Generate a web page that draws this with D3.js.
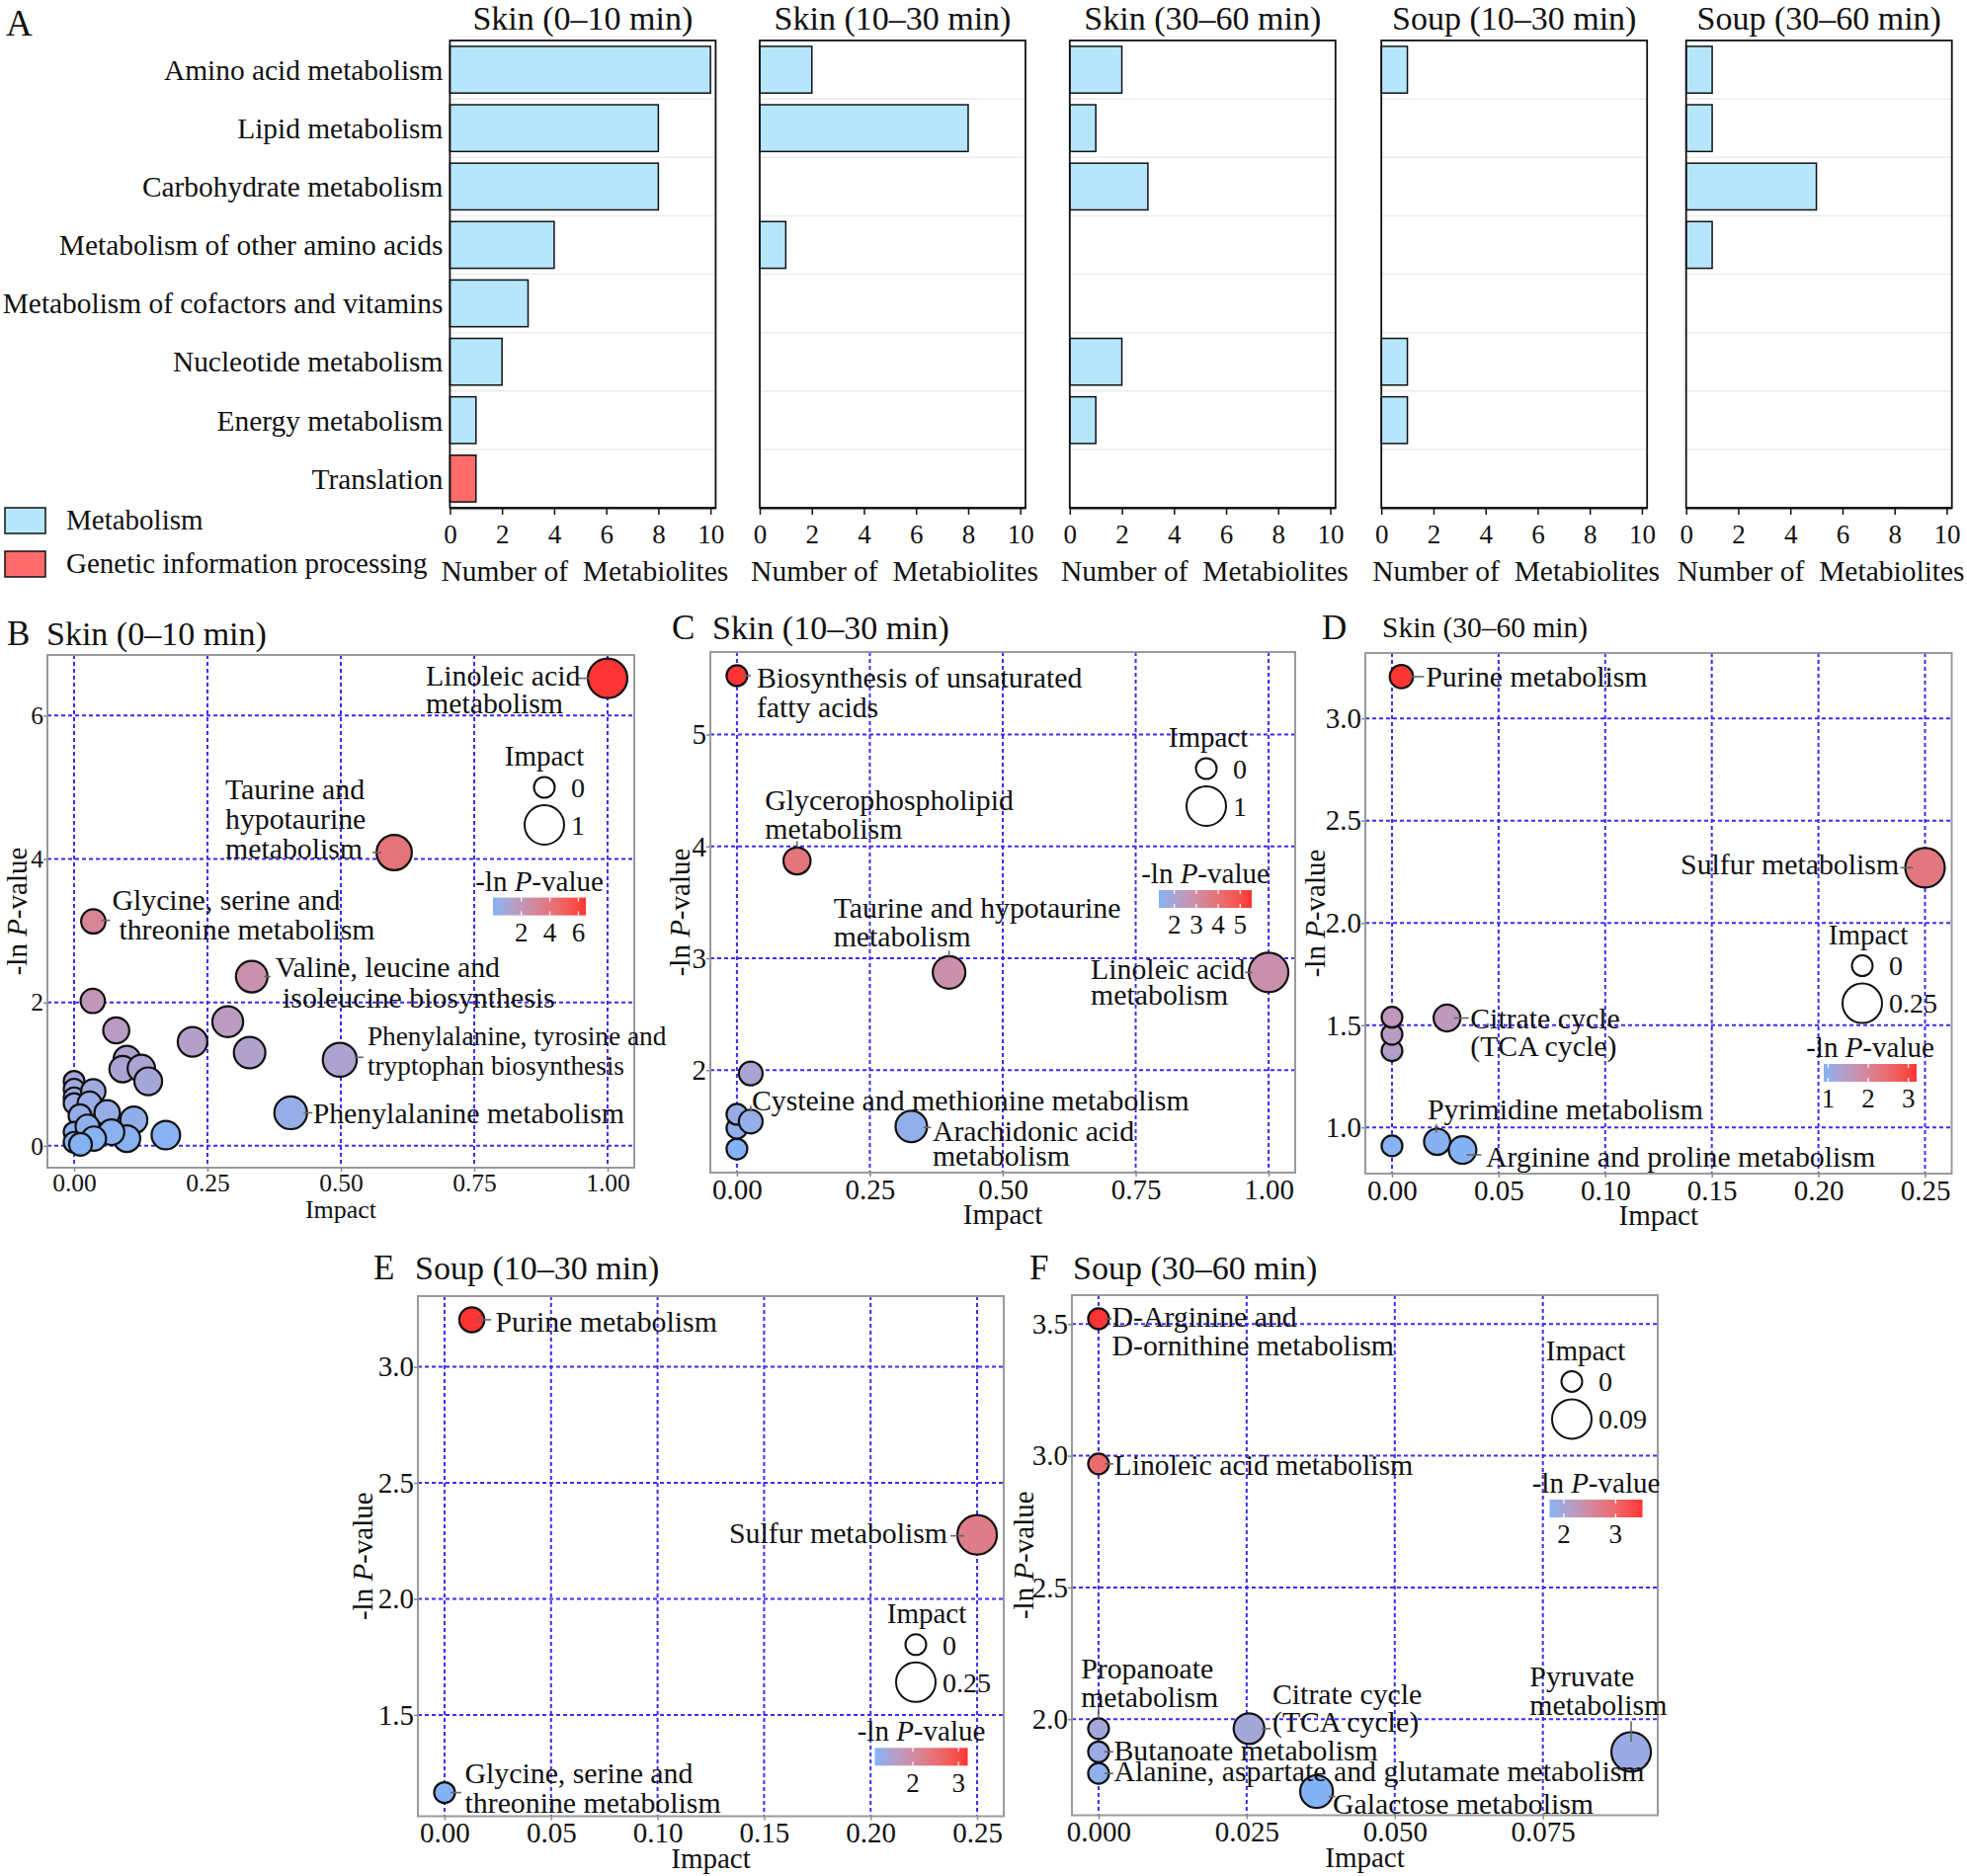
<!DOCTYPE html>
<html><head><meta charset="utf-8">
<script src="https://cdn.jsdelivr.net/npm/d3@7"></script>
<style>
body{margin:0;background:#fff}
svg{display:block}
text{font-family:"Liberation Serif","Times New Roman",Times,serif;fill:#111}
</style>
</head><body>
<svg id="fig" width="1991" height="1899"></svg>
<script>
// ================= DATA =================
// Panel A: KEGG classes, number of metabolites
const categories = ["Amino acid metabolism","Lipid metabolism","Carbohydrate metabolism","Metabolism of other amino acids","Metabolism of cofactors and vitamins","Nucleotide metabolism","Energy metabolism","Translation"];
const categoryClass = ["Metabolism","Metabolism","Metabolism","Metabolism","Metabolism","Metabolism","Metabolism","Genetic information processing"];
const classNames = ["Metabolism","Genetic information processing"];
const groupTitles = ["Skin (0–10 min)","Skin (10–30 min)","Skin (30–60 min)","Soup (10–30 min)","Soup (30–60 min)"];
const skin0to10Counts  = [10,8,8,4,3,2,1,1];
const skin10to30Counts = [2,8,0,1,0,0,0,0];
const skin30to60Counts = [2,1,3,0,0,2,1,0];
const soup10to30Counts = [1,0,0,0,0,1,1,0];
const soup30to60Counts = [1,1,5,1,0,0,0,0];
const countTicks = [0,2,4,6,8,10];

// Panels B-F: pathway impact vs -ln P-value
const skin0to10Pathways = [
  {pathway:null, impact:0.000, nlp:0.90},{pathway:null, impact:0.000, nlp:0.79},{pathway:null, impact:0.000, nlp:0.67},
  {pathway:null, impact:0.000, nlp:0.59},{pathway:null, impact:0.036, nlp:0.76},{pathway:null, impact:0.029, nlp:0.59},
  {pathway:null, impact:0.011, nlp:0.42},{pathway:null, impact:0.062, nlp:0.46},{pathway:null, impact:0.112, nlp:0.36},
  {pathway:null, impact:0.172, nlp:0.15},{pathway:null, impact:0.099, nlp:0.10},{pathway:null, impact:0.070, nlp:0.19},
  {pathway:null, impact:0.000, nlp:0.19},{pathway:null, impact:0.025, nlp:0.27},{pathway:null, impact:0.037, nlp:0.10},
  {pathway:null, impact:0.000, nlp:0.05},{pathway:null, impact:0.012, nlp:0.02},
  {pathway:null, impact:0.099, nlp:1.21},{pathway:null, impact:0.091, nlp:1.07},{pathway:null, impact:0.126, nlp:1.08},
  {pathway:null, impact:0.139, nlp:0.90},{pathway:null, impact:0.035, nlp:2.02},{pathway:null, impact:0.079, nlp:1.61},
  {pathway:null, impact:0.288, nlp:1.73},{pathway:null, impact:0.222, nlp:1.45},{pathway:null, impact:0.329, nlp:1.30},
  {pathway:"Phenylalanine metabolism", impact:0.406, nlp:0.46},
  {pathway:"Phenylalanine, tyrosine and tryptophan biosynthesis", impact:0.498, nlp:1.20},
  {pathway:"Valine, leucine and isoleucine biosynthesis", impact:0.333, nlp:2.36},
  {pathway:"Glycine, serine and threonine metabolism", impact:0.036, nlp:3.13},
  {pathway:"Taurine and hypotaurine metabolism", impact:0.600, nlp:4.09},
  {pathway:"Linoleic acid metabolism", impact:1.000, nlp:6.52}
];
const skin10to30Pathways = [
  {pathway:null, impact:0.000, nlp:1.295},{pathway:null, impact:0.000, nlp:1.48},{pathway:null, impact:0.000, nlp:1.605},
  {pathway:"Cysteine and methionine metabolism", impact:0.026, nlp:1.54},
  {pathway:null, impact:0.026, nlp:1.97},
  {pathway:"Arachidonic acid metabolism", impact:0.328, nlp:1.496},
  {pathway:"Taurine and hypotaurine metabolism", impact:0.399, nlp:2.873},
  {pathway:"Linoleic acid metabolism", impact:1.000, nlp:2.873},
  {pathway:"Glycerophospholipid metabolism", impact:0.113, nlp:3.87},
  {pathway:"Biosynthesis of unsaturated fatty acids", impact:0.000, nlp:5.526}
];
const skin30to60Pathways = [
  {pathway:null, impact:0.000, nlp:0.91},
  {pathway:"Pyrimidine metabolism", impact:0.0212, nlp:0.93},
  {pathway:"Arginine and proline metabolism", impact:0.0331, nlp:0.89},
  {pathway:null, impact:0.000, nlp:1.375},{pathway:null, impact:0.000, nlp:1.455},{pathway:null, impact:0.000, nlp:1.539},
  {pathway:"Citrate cycle (TCA cycle)", impact:0.0258, nlp:1.535},
  {pathway:"Sulfur metabolism", impact:0.250, nlp:2.27},
  {pathway:"Purine metabolism", impact:0.0044, nlp:3.204}
];
const soup10to30Pathways = [
  {pathway:"Glycine, serine and threonine metabolism", impact:0.000, nlp:1.165},
  {pathway:"Sulfur metabolism", impact:0.250, nlp:2.276},
  {pathway:"Purine metabolism", impact:0.0128, nlp:3.203}
];
const soup30to60Pathways = [
  {pathway:"Alanine, aspartate and glutamate metabolism", impact:0.000, nlp:1.794},
  {pathway:"Butanoate metabolism", impact:0.000, nlp:1.876},
  {pathway:"Propanoate metabolism", impact:0.000, nlp:1.964},
  {pathway:"Galactose metabolism", impact:0.0368, nlp:1.725},
  {pathway:"Citrate cycle (TCA cycle)", impact:0.0254, nlp:1.964},
  {pathway:"Pyruvate metabolism", impact:0.0899, nlp:1.876},
  {pathway:"Linoleic acid metabolism", impact:0.000, nlp:2.969},
  {pathway:"D-Arginine and D-ornithine metabolism", impact:0.000, nlp:3.52}
];

// ================= LAYOUT / STYLE =================
const LOW = "#84B3F5", HIGH = "#FF3434", GRID = "#3d2cf5";
const BAR_FILL = {"Metabolism":"#B5E6FB","Genetic information processing":"#FF6B6B"};
const LABEL_FONT = 29.8;
const svg = d3.select("#fig");

// ---------- Panel A ----------
const barSeries = [skin0to10Counts, skin10to30Counts, skin30to60Counts, soup10to30Counts, soup30to60Counts];
const A = {lefts:[455.4, 769, 1082.8, 1398.2, 1706.7], w:269, top:41, bottom:514, xmax:10.2};
svg.append("text").attr("x",6).attr("y",23).attr("dy","0.35em").attr("font-size",37).text("A");

barSeries.forEach((vals, i) => {
  const L = A.lefts[i];
  const g = svg.append("g");
  const x = d3.scaleLinear().domain([0, A.xmax]).range([L, L + A.w]);
  const y = d3.scaleBand().domain(categories).range([A.top, A.bottom]).paddingInner(0.2).paddingOuter(0.1);
  g.selectAll("line.sep").data(categories.slice(1)).join("line")
    .attr("x1", L).attr("x2", L + A.w)
    .attr("y1", d => y(d) - y.step()*0.1).attr("y2", d => y(d) - y.step()*0.1)
    .attr("stroke", "#ececec").attr("stroke-width", 1.5);
  const rows = categories.map((c, k) => ({c, v: vals[k], cls: categoryClass[k]})).filter(d => d.v > 0);
  g.selectAll("rect.bar").data(rows).join("rect")
    .attr("x", x(0)).attr("y", d => y(d.c)).attr("width", d => x(d.v) - x(0)).attr("height", y.bandwidth())
    .attr("fill", d => BAR_FILL[d.cls]).attr("stroke", "#111").attr("stroke-width", 1.5);
  g.append("rect").attr("x", L).attr("y", A.top).attr("width", A.w).attr("height", A.bottom - A.top)
    .attr("fill", "none").attr("stroke", "#111").attr("stroke-width", 1.8);
  const ax = g.append("g").attr("transform", `translate(0,${A.bottom})`)
    .call(d3.axisBottom(x).tickValues(countTicks).tickSize(7).tickSizeOuter(0).tickPadding(10));
  ax.select(".domain").attr("stroke", "#111").attr("stroke-width", 1.8);
  ax.selectAll(".tick line").attr("stroke", "#111").attr("stroke-width", 1.5);
  ax.selectAll("text").attr("font-family", null).attr("font-size", 27).attr("fill", "#111");
  svg.append("text").attr("x", L + A.w/2).attr("y", 18).attr("dy", "0.35em")
    .attr("text-anchor", "middle").attr("font-size", 34).text(groupTitles[i]);
  svg.append("text").attr("x", L + A.w/2 + 2).attr("y", 578).attr("dy", "0.35em")
    .attr("text-anchor", "middle").attr("font-size", 29.5).style("white-space", "pre").text("Number of  Metabiolites");
  if (i === 0) {
    g.selectAll("text.cat").data(categories).join("text")
      .attr("x", L - 7).attr("y", d => y(d) + y.bandwidth()/2).attr("dy", "0.35em")
      .attr("text-anchor", "end").attr("font-size", 29.4).text(d => d);
  }
});
classNames.forEach((c, k) => {
  const yy = 514 + k*44;
  svg.append("rect").attr("x", 5).attr("y", yy).attr("width", 41).attr("height", 26)
    .attr("fill", BAR_FILL[c]).attr("stroke", "#111").attr("stroke-width", 1.5);
  svg.append("text").attr("x", 67).attr("y", yy + 12).attr("dy", "0.35em").attr("font-size", 29).text(c);
});

// ---------- Panels B-F ----------
const scatterPanels = [
  {id:"B", data:skin0to10Pathways, title:"Skin (0–10 min)",
   frame:{left:48, top:663, w:594, h:519},
   letter:{x:7, y:641}, titleX:47, titleSize:34,
   xTicks:[0,0.25,0.5,0.75,1], xFmt:".2f", yTicks:[0,2,4,6], yFmt:"d",
   tickFont:25.5, xTitleFont:26, yTitleOff:31,
   sizeLegend:{values:[0,1], x:503, y:102, tdx:0}, colorLegend:{ticks:[2,4,6], x:451, y:245.6},
   labels:{
    "Linoleic acid metabolism":{lines:["Linoleic acid","metabolism"], dx:-184, dy:-3, lh:28, seg:[-31,0,-17,0]},
    "Taurine and hypotaurine metabolism":{lines:["Taurine and","hypotaurine","metabolism"], dx:-171, dy:-64, lh:30, seg:[-22,0,-13,0]},
    "Glycine, serine and threonine metabolism":{lines:["Glycine, serine and","threonine metabolism"], ldx:[0,7], dx:19, dy:-22, lh:30, seg:[8,-1,17,-1]},
    "Valine, leucine and isoleucine biosynthesis":{lines:["Valine, leucine and","isoleucine biosynthesis"], ldx:[0,7.6], dx:23.6, dy:-10, lh:30.6, seg:[12.5,0,19,0]},
    "Phenylalanine, tyrosine and tryptophan biosynthesis":{lines:["Phenylalanine, tyrosine and","tryptophan biosynthesis"], fs:27.3, dx:28, dy:-24, lh:30, seg:[15,-2.5,24,-2.5]},
    "Phenylalanine metabolism":{lines:["Phenylalanine metabolism"], dx:22.4, dy:0, seg:[13,0,22,0]}
   }},
  {id:"C", data:skin10to30Pathways, title:"Skin (10–30 min)",
   frame:{left:719, top:660, w:592, h:527},
   letter:{x:680, y:635}, titleX:721, titleSize:34,
   xTicks:[0,0.25,0.5,0.75,1], xFmt:".2f", yTicks:[2,3,4,5], yFmt:"d",
   tickFont:29, xTitleFont:29, yTitleOff:31,
   sizeLegend:{values:[0,1], x:502, y:86, tdx:2}, colorLegend:{ticks:[2,3,4,5], x:454, y:241},
   labels:{
    "Biosynthesis of unsaturated fatty acids":{lines:["Biosynthesis of unsaturated","fatty acids"], dx:20, dy:1.3, lh:30, seg:[6,0,14,0]},
    "Glycerophospholipid metabolism":{lines:["Glycerophospholipid","metabolism"], dx:-32.4, dy:-62, lh:29, seg:[0,-20,0,-14]},
    "Taurine and hypotaurine metabolism":{lines:["Taurine and hypotaurine","metabolism"], dx:-117, dy:-65.5, lh:29, seg:[0,-22,0,-16]},
    "Linoleic acid metabolism":{lines:["Linoleic acid","metabolism"], dx:-180, dy:-3.3, lh:26, seg:[-24,0,-16,0]},
    "Cysteine and methionine metabolism":{lines:["Cysteine and methionine metabolism"], dx:1, dy:-22, seg:[0,-16,0,-10]},
    "Arachidonic acid metabolism":{lines:["Arachidonic acid","metabolism"], dx:21.5, dy:4, lh:25, seg:[12,1,20,1]}
   }},
  {id:"D", data:skin30to60Pathways, title:"Skin (30–60 min)",
   frame:{left:1382, top:661, w:593.5, h:527},
   letter:{x:1338, y:635}, titleX:1399, titleSize:29.5,
   xTicks:[0,0.05,0.1,0.15,0.2,0.25], xFmt:".2f", yTicks:[1,1.5,2,2.5,3], yFmt:".1f",
   tickFont:29, xTitleFont:29, yTitleOff:51,
   sizeLegend:{values:[0,0.25], x:503, y:284.6, tdx:6}, colorLegend:{ticks:[1,2,3], x:464, y:416},
   labels:{
    "Purine metabolism":{lines:["Purine metabolism"], dx:24.8, dy:0, seg:[8,0,23,0]},
    "Sulfur metabolism":{lines:["Sulfur metabolism"], dx:-247.4, dy:-4, seg:[-25,0,-12,0]},
    "Citrate cycle (TCA cycle)":{lines:["Citrate cycle","(TCA cycle)"], dx:23.6, dy:0, lh:28.2, seg:[7,0,22,0]},
    "Pyrimidine metabolism":{lines:["Pyrimidine metabolism"], dx:-9.8, dy:-33.2, seg:[-1,-18,-1,-9]},
    "Arginine and proline metabolism":{lines:["Arginine and proline metabolism"], dx:23.5, dy:6.6, seg:[4,5,19,5]}
   }},
  {id:"E", data:soup10to30Pathways, title:"Soup (10–30 min)",
   frame:{left:423, top:1312, w:593, h:526.5},
   letter:{x:378, y:1283}, titleX:420, titleSize:34,
   xTicks:[0,0.05,0.1,0.15,0.2,0.25], xFmt:".2f", yTicks:[1.5,2,2.5,3], yFmt:".1f",
   tickFont:29, xTitleFont:29, yTitleOff:56,
   sizeLegend:{values:[0,0.25], x:504, y:320.8, tdx:11}, colorLegend:{ticks:[2,3], x:462.5, y:457.3},
   labels:{
    "Purine metabolism":{lines:["Purine metabolism"], dx:24, dy:2, seg:[5,0,19.6,0]},
    "Sulfur metabolism":{lines:["Sulfur metabolism"], dx:-251, dy:-2, seg:[-27,1,-13,1]},
    "Glycine, serine and threonine metabolism":{lines:["Glycine, serine and","threonine metabolism"], dx:20.6, dy:-19.5, lh:29.8, seg:[6,0,17,0]}
   }},
  {id:"F", data:soup30to60Pathways, title:"Soup (30–60 min)",
   frame:{left:1085, top:1311, w:593, h:526.5},
   letter:{x:1042, y:1283}, titleX:1086, titleSize:34,
   xTicks:[0,0.025,0.05,0.075], xFmt:".3f", yTicks:[2,2.5,3,3.5], yFmt:".1f",
   tickFont:29, xTitleFont:29, yTitleOff:49,
   sizeLegend:{values:[0,0.09], x:506, y:55.4, tdx:14}, colorLegend:{ticks:[2,3], x:483.5, y:207},
   labels:{
    "D-Arginine and D-ornithine metabolism":{lines:["D-Arginine and","D-ornithine metabolism"], dx:13.5, dy:-2, lh:29, seg:[6.7,0,13.4,0]},
    "Linoleic acid metabolism":{lines:["Linoleic acid metabolism"], dx:15.5, dy:1, seg:[6,0,15,0]},
    "Propanoate metabolism":{lines:["Propanoate","metabolism"], dx:-17.8, dy:-61.3, lh:29, seg:[0,-22,0,-10]},
    "Butanoate metabolism":{lines:["Butanoate metabolism"], dx:15.5, dy:-2, seg:[6,0,15,0]},
    "Alanine, aspartate and glutamate metabolism":{lines:["Alanine, aspartate and glutamate metabolism"], dx:15.5, dy:-2.5, seg:[6,0,15,0]},
    "Citrate cycle (TCA cycle)":{lines:["Citrate cycle","(TCA cycle)"], dx:23.7, dy:-35.6, lh:28, seg:[13,0,22,0]},
    "Galactose metabolism":{lines:["Galactose metabolism"], dx:16.4, dy:11.6, seg:[12,5,19,5]},
    "Pyruvate metabolism":{lines:["Pyruvate","metabolism"], dx:-102.7, dy:-76.6, lh:29, seg:[0,-31,0,-10]}
   }}
];

const defs = svg.append("defs");

function drawScatter(p) {
  const g = svg.append("g");
  const {left, top, w, h} = p.frame;
  const xe = d3.extent(p.data, d => d.impact), ye = d3.extent(p.data, d => d.nlp);
  const xp = (xe[1] - xe[0]) * 0.05, yp = (ye[1] - ye[0]) * 0.05;
  const x = d3.scaleLinear().domain([xe[0] - xp, xe[1] + xp]).range([left, left + w]);
  const y = d3.scaleLinear().domain([ye[0] - yp, ye[1] + yp]).range([top + h, top]);
  const r = d3.scaleSqrt().domain([0, xe[1]]).range([10.5, 20]);
  const col = d3.scaleLinear().domain(ye).range([LOW, HIGH]).interpolate(d3.interpolateLab);

  svg.append("text").attr("x", p.letter.x).attr("y", p.letter.y).attr("dy", "0.35em").attr("font-size", 35).text(p.id);
  svg.append("text").attr("x", p.titleX).attr("y", p.letter.y).attr("dy", "0.35em").attr("font-size", p.titleSize).text(p.title);

  const grid = g.append("g").attr("stroke", GRID).attr("stroke-width", 2).attr("stroke-dasharray", "4,3");
  grid.selectAll("line.gx").data(p.xTicks).join("line")
    .attr("x1", d => x(d)).attr("x2", d => x(d)).attr("y1", top).attr("y2", top + h);
  grid.selectAll("line.gy").data(p.yTicks).join("line")
    .attr("y1", d => y(d)).attr("y2", d => y(d)).attr("x1", left).attr("x2", left + w);

  g.append("rect").attr("x", left).attr("y", top).attr("width", w).attr("height", h)
    .attr("fill", "none").attr("stroke", "#9a9a9a").attr("stroke-width", 2);

  const ax = g.append("g").attr("transform", `translate(0,${top + h})`)
    .call(d3.axisBottom(x).tickValues(p.xTicks).tickFormat(d3.format(p.xFmt)).tickSize(4).tickSizeOuter(0).tickPadding(2));
  const ay = g.append("g").attr("transform", `translate(${left},0)`)
    .call(d3.axisLeft(y).tickValues(p.yTicks).tickFormat(d3.format(p.yFmt)).tickSize(4).tickSizeOuter(0).tickPadding(0));
  [ax, ay].forEach(a => {
    a.select(".domain").remove();
    a.selectAll(".tick line").attr("stroke", "#888").attr("stroke-width", 1.5);
    a.selectAll("text").attr("font-family", null).attr("font-size", p.tickFont).attr("fill", "#111");
  });
  svg.append("text").attr("x", left + w/2).attr("y", top + h + 42).attr("dy", "0.35em")
    .attr("text-anchor", "middle").attr("font-size", p.xTitleFont).text("Impact");
  const yt = svg.append("text").attr("transform", `translate(${left - p.yTitleOff},${top + h/2}) rotate(-90)`)
    .attr("dy", "0.35em").attr("text-anchor", "middle").attr("font-size", 29);
  yt.append("tspan").text("-ln ");
  yt.append("tspan").attr("font-style", "italic").text("P");
  yt.append("tspan").text("-value");

  g.append("g").selectAll("circle").data(p.data).join("circle")
    .attr("cx", d => x(d.impact)).attr("cy", d => y(d.nlp)).attr("r", d => r(d.impact))
    .attr("fill", d => col(d.nlp)).attr("stroke", "#111").attr("stroke-width", 2.2);

  const lab = g.append("g");
  p.data.filter(d => d.pathway && p.labels[d.pathway]).forEach(d => {
    const L = p.labels[d.pathway];
    const cx = x(d.impact), cy = y(d.nlp);
    lab.append("line").attr("x1", cx + L.seg[0]).attr("y1", cy + L.seg[1]).attr("x2", cx + L.seg[2]).attr("y2", cy + L.seg[3])
      .attr("stroke", "#666").attr("stroke-width", 1.6);
    L.lines.forEach((t, k) => {
      lab.append("text").attr("x", cx + L.dx + (L.ldx ? L.ldx[k] : 0)).attr("y", cy + L.dy + k * (L.lh || 29))
        .attr("dy", "0.35em").attr("font-size", L.fs || LABEL_FONT).text(t);
    });
  });

  const sl = p.sizeLegend, sx = left + sl.x, sy = top + sl.y;
  svg.append("text").attr("x", sx + sl.tdx).attr("y", sy).attr("dy", "0.35em").attr("text-anchor", "middle")
    .attr("font-size", 29).text("Impact");
  sl.values.forEach((v, k) => {
    const cy = sy + 32 + k * 38;
    svg.append("circle").attr("cx", sx).attr("cy", cy).attr("r", r(v)).attr("fill", "none").attr("stroke", "#111").attr("stroke-width", 2);
    svg.append("text").attr("x", sx + 27).attr("y", cy).attr("dy", "0.35em").attr("font-size", 28).text(String(v));
  });

  const cl = p.colorLegend, bx = left + cl.x, by = top + cl.y, bw = 94, bh = 18;
  const gid = "grad" + p.id;
  const lg = defs.append("linearGradient").attr("id", gid).attr("x1", "0%").attr("x2", "100%").attr("y1", "0%").attr("y2", "0%");
  d3.range(0, 1.0001, 0.1).forEach(t => {
    lg.append("stop").attr("offset", (t * 100) + "%").attr("stop-color", col(ye[0] + t * (ye[1] - ye[0])));
  });
  const ct = svg.append("text").attr("x", bx + bw/2).attr("y", by - 17).attr("dy", "0.35em").attr("text-anchor", "middle").attr("font-size", 29);
  ct.append("tspan").text("-ln ");
  ct.append("tspan").attr("font-style", "italic").text("P");
  ct.append("tspan").text("-value");
  svg.append("rect").attr("x", bx).attr("y", by).attr("width", bw).attr("height", bh).attr("fill", `url(#${gid})`);
  const cs = d3.scaleLinear().domain(ye).range([bx, bx + bw]);
  cl.ticks.forEach(t => {
    svg.append("line").attr("x1", cs(t)).attr("x2", cs(t)).attr("y1", by).attr("y2", by + 4).attr("stroke", "#fff").attr("stroke-width", 1.2);
    svg.append("line").attr("x1", cs(t)).attr("x2", cs(t)).attr("y1", by + bh - 4).attr("y2", by + bh).attr("stroke", "#fff").attr("stroke-width", 1.2);
    svg.append("text").attr("x", cs(t)).attr("y", by + bh + 17).attr("dy", "0.35em").attr("text-anchor", "middle").attr("font-size", 27).text(t);
  });
}
scatterPanels.forEach(drawScatter);
</script>
</body></html>
